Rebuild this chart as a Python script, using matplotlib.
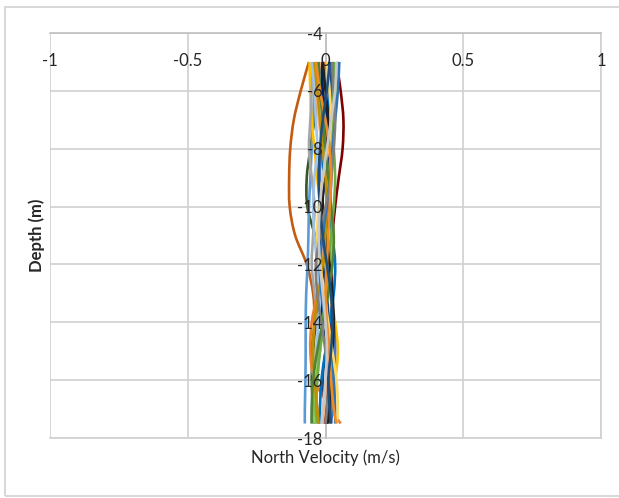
"""North velocity profiles versus depth."""

import matplotlib
matplotlib.use("Agg")
import matplotlib.pyplot as plt
import numpy as np
from matplotlib.path import Path
from matplotlib.patches import PathPatch, Rectangle

plt.rcParams["font.family"] = ["Lato", "DejaVu Sans"]
plt.rcParams["axes.unicode_minus"] = False

depth = [-5, -6, -7, -8, -9, -10, -11, -12, -13, -14, -15, -16, -17, -17.5]

# one profile per ensemble, values in m/s
profiles = {
    "#C55A11": [-0.06, -0.09, -0.115, -0.128, -0.132, -0.13, -0.11, -0.068, -0.045, -0.04, -0.05, -0.04, -0.03, -0.025],
    "#385723": [-0.005, -0.02, -0.04, -0.055, -0.068, -0.066, -0.038, -0.01, -0.02, -0.035, -0.045, -0.05, -0.045, -0.04],
    "#7F0000": [0.04, 0.055, 0.065, 0.062, 0.048, 0.035, 0.025, 0.02, 0.025, 0.02, 0.01, 0.005, 0.0, -0.005],
    "#5B9BD5": [-0.03, -0.04, -0.045, -0.05, -0.055, -0.06, -0.062, -0.065, -0.07, -0.072, -0.072, -0.073, -0.075, -0.075],
    "#FFC000": [-0.058, -0.055, -0.05, -0.04, -0.03, -0.02, -0.01, 0.0, 0.015, 0.035, 0.045, 0.035, 0.02, 0.015],
    "#A5A5A5": [-0.045, -0.05, -0.055, -0.06, -0.05, -0.04, -0.045, -0.05, -0.04, -0.03, -0.025, -0.03, -0.035, -0.035],
    "#ED7D31": [0.0, -0.01, -0.005, 0.01, 0.02, 0.01, -0.005, -0.015, -0.03, -0.05, -0.055, -0.04, 0.02, 0.055],
    "#4472C4": [0.02, 0.015, 0.0, -0.015, -0.02, -0.01, 0.0, 0.01, 0.02, 0.03, 0.035, 0.03, 0.025, 0.02],
    "#264478": [0.01, 0.02, 0.03, 0.02, 0.0, -0.015, -0.02, -0.01, 0.005, 0.01, 0.0, -0.01, 0.0, 0.005],
    "#0070C0": [0.03, 0.02, 0.005, -0.01, -0.005, 0.01, 0.025, 0.035, 0.03, 0.015, 0.0, -0.015, -0.02, -0.02],
    "#002060": [-0.015, -0.01, 0.005, 0.015, 0.02, 0.015, 0.0, -0.01, -0.015, -0.01, 0.005, 0.015, 0.01, 0.005],
    "#92D050": [0.045, 0.04, 0.03, 0.02, 0.015, 0.02, 0.025, 0.02, 0.01, -0.005, -0.02, -0.035, -0.04, -0.04],
    "#70AD47": [0.035, 0.03, 0.025, 0.03, 0.035, 0.03, 0.02, 0.01, 0.0, -0.01, -0.02, -0.03, -0.035, -0.03],
    "#9DC3E6": [-0.05, -0.04, -0.035, -0.03, -0.04, -0.045, -0.04, -0.03, -0.02, -0.025, -0.035, -0.045, -0.05, -0.05],
    "#F4B183": [-0.02, -0.03, -0.025, -0.01, 0.0, 0.005, -0.005, -0.015, -0.01, 0.0, 0.01, 0.005, -0.005, -0.01],
    "#202020": [-0.01, 0.0, 0.01, 0.005, -0.005, -0.01, 0.0, 0.015, 0.025, 0.03, 0.025, 0.02, 0.015, 0.01],
    "#BF9000": [-0.04, -0.03, -0.02, -0.01, 0.0, 0.005, 0.0, -0.01, -0.025, -0.04, -0.045, -0.04, -0.03, -0.025],
    "#2E75B6": [0.05, 0.045, 0.035, 0.025, 0.015, 0.005, -0.01, -0.02, -0.015, 0.0, 0.015, 0.03, 0.035, 0.035],
    "#FFD966": [0.005, 0.015, 0.02, 0.01, -0.01, -0.025, -0.03, -0.02, -0.005, 0.01, 0.025, 0.04, 0.045, 0.04],
    "#548235": [-0.025, -0.02, -0.01, 0.0, 0.01, 0.02, 0.03, 0.025, 0.01, -0.01, -0.03, -0.045, -0.05, -0.05],
    "#7F7F7F": [0.025, 0.03, 0.035, 0.03, 0.02, 0.0, -0.02, -0.035, -0.03, -0.015, 0.0, 0.01, 0.005, 0.0],
    "#F08A24": [-0.035, -0.02, 0.0, 0.015, 0.02, 0.015, 0.01, 0.005, 0.0, 0.005, 0.015, 0.02, 0.03, 0.04],
    "#1F4E79": [0.015, 0.005, -0.01, -0.02, -0.025, -0.02, -0.01, 0.005, 0.02, 0.025, 0.02, 0.01, 0.015, 0.02],
    "#C9C9C9": [0.04, 0.035, 0.02, 0.005, -0.01, -0.02, -0.025, -0.02, -0.01, 0.0, 0.005, 0.0, -0.01, -0.015],
}

x_ticks = [-1, -0.5, 0, 0.5, 1]
x_labels = ["-1", "-0.5", "0", "0.5", "1"]
y_ticks = [-4, -6, -8, -10, -12, -14, -16, -18]
y_labels = ["-4", "-6", "-8", "-10", "-12", "-14", "-16", "-18"]

GRID = "#D0D0D0"
TEXT = "#262626"


def smooth_path(xs, ys):
    # Excel style smoothed line: cubic bezier through every point
    pts = np.column_stack([xs, ys]).astype(float)
    ext = np.vstack([pts[0], pts, pts[-1]])
    verts = [pts[0]]
    codes = [Path.MOVETO]
    for i in range(len(pts) - 1):
        p0, p1, p2, p3 = ext[i], ext[i + 1], ext[i + 2], ext[i + 3]
        verts += [p1 + (p2 - p0) / 6, p2 - (p3 - p1) / 6, p2]
        codes += [Path.CURVE4] * 3
    return Path(verts, codes)


fig = plt.figure(figsize=(6.19, 4.98), dpi=100)
ax = fig.add_axes([50 / 619, 1 - 438 / 498, 551 / 619, 405 / 498])

fig.patches.append(Rectangle((5 / 619, 1 - 496 / 498), 1.0, 489 / 498,
                             transform=fig.transFigure, fill=False,
                             edgecolor="#D9D9D9", lw=1.5))

# gridlines kept under the profiles, tick labels stay on top
for xv in x_ticks:
    ax.axvline(xv, color=GRID, lw=1.2, zorder=0.3)
for yv in y_ticks:
    ax.axhline(yv, color=GRID, lw=1.2, zorder=0.3)

for color, values in profiles.items():
    ax.add_patch(PathPatch(smooth_path(values, depth), fill=False,
                           edgecolor=color, lw=1.9, capstyle="butt", zorder=1))

ax.set_xlim(-1, 1)
ax.set_ylim(-18, -4)
ax.set_xticks(x_ticks)
ax.set_xticklabels(x_labels)
ax.set_yticks(y_ticks)
ax.set_yticklabels(y_labels)

ax.xaxis.set_ticks_position("top")
ax.tick_params(axis="x", length=0, pad=-26, labelsize=12, colors=TEXT)
ax.tick_params(axis="y", length=0, pad=2, labelsize=12, colors=TEXT)

for side in ["top", "bottom", "right"]:
    ax.spines[side].set_color(GRID)
    ax.spines[side].set_linewidth(1.2)
    ax.spines[side].set_zorder(0.4)
ax.spines["top"].set_color("#BFBFBF")
ax.spines["left"].set_position(("data", 0))
ax.spines["left"].set_color("#BFBFBF")
ax.spines["left"].set_linewidth(1.2)
ax.spines["left"].set_zorder(0.5)

ax.text(0.5, -0.049, "North Velocity (m/s)", transform=ax.transAxes,
        ha="center", va="center", fontsize=12, color=TEXT)
ax.text(-0.024, 0.5, "Depth (m)", transform=ax.transAxes, rotation=90,
        ha="center", va="center", fontsize=12, fontweight="bold", color=TEXT)

fig.savefig("out.png", dpi=100)
